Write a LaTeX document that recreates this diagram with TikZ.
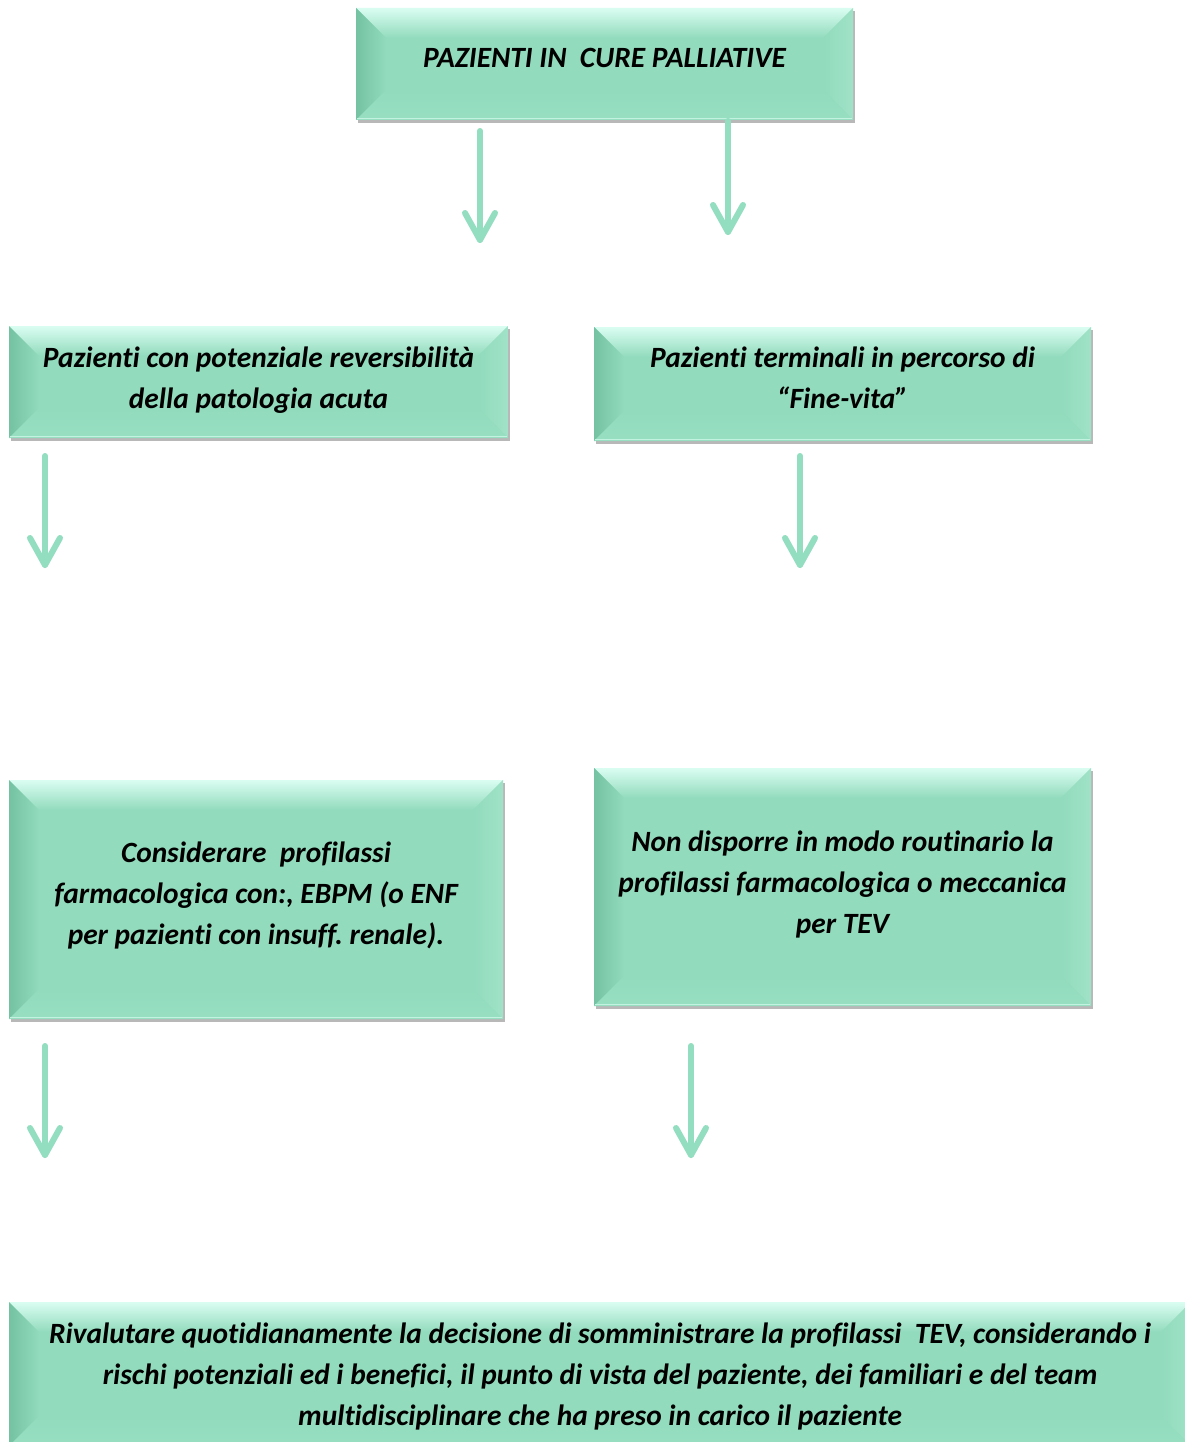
\documentclass[tikz,border=0pt]{standalone}
\usepackage{fontspec}
\setmainfont{Carlito}[Ligatures={NoCommon}]
\usetikzlibrary{calc,shadows}
\frenchspacing

\definecolor{boxfill}{RGB}{146,219,189}
\definecolor{bvtop}{RGB}{218,253,242}
\definecolor{bvleft}{RGB}{116,194,162}
\definecolor{bvright}{RGB}{160,226,199}
\definecolor{bvbottom}{RGB}{152,223,194}
\definecolor{bvedge}{RGB}{196,242,224}
\definecolor{arrowcol}{RGB}{147,221,192}

\tikzset{
  bevelbox/.style={
    rectangle, inner sep=0pt, fill=boxfill,
    drop shadow={shadow xshift=1.5pt,shadow yshift=-3pt,fill=black,opacity=0.28},
    path picture={
      \path (path picture bounding box.south west) coordinate (pbsw)
            (path picture bounding box.north east) coordinate (pbne);
      \path (pbsw|-pbne) coordinate (pbnw) (pbne|-pbsw) coordinate (pbse);
      \path ($(pbnw)+(30pt,-30pt)$) coordinate (inw)
            ($(pbne)+(-30pt,-30pt)$) coordinate (ine)
            ($(pbsw)+(30pt,30pt)$) coordinate (isw)
            ($(pbse)+(-30pt,30pt)$) coordinate (ise);
      % top bevel
      \shade[top color=bvtop,bottom color=boxfill] (pbnw) -- (pbne) -- (ine) -- (inw) -- cycle;
      % left bevel
      \shade[left color=bvleft,right color=boxfill] (pbnw) -- (inw) -- (isw) -- (pbsw) -- cycle;
      % right bevel
      \shade[left color=boxfill,right color=bvright] (pbne) -- (pbse) -- (ise) -- (ine) -- cycle;
      % bottom bevel
      \shade[top color=boxfill,bottom color=bvbottom] (pbsw) -- (isw) -- (ise) -- (pbse) -- cycle;
      \draw[bvedge,line width=1.5pt] ($(pbsw)+(1pt,1.5pt)$) -- ($(pbse)+(-1pt,1.5pt)$);
    }
  },
  boxtext/.style={
    inner sep=0pt, align=center,
    font=\fontsize{29.4}{41}\selectfont\bfseries\itshape
  },
  flowarrow/.style={draw=arrowcol, line width=6pt, line cap=round, line join=round},
}

% down arrow with open chevron head
\newcommand{\downarrowpath}[2]{%
  \draw[flowarrow] (#1) -- (#2);
  \draw[flowarrow] ($(#2)+(-15pt,27pt)$) -- (#2) -- ($(#2)+(15pt,27pt)$);
}

\begin{document}
\begin{tikzpicture}[x=1pt,y=-1pt]
  \clip (0,0) rectangle (1185,1442);
  \fill[white] (0,0) rectangle (1185,1442);

  % boxes
  \node[bevelbox, minimum width=497pt, minimum height=112pt] (top) at (604.5,64) {};
  \node[bevelbox, minimum width=499pt, minimum height=112pt] (rev) at (258.5,382) {};
  \node[bevelbox, minimum width=497pt, minimum height=114pt] (term) at (842.5,384) {};
  \node[bevelbox, minimum width=494pt, minimum height=239pt] (prof) at (256,899.5) {};
  \node[bevelbox, minimum width=497pt, minimum height=238pt] (nonp) at (842.5,887) {};
  \node[bevelbox, minimum width=1182pt, minimum height=144pt] (rival) at (600,1374) {};

  % box texts
  \node[boxtext] (top-t) at ([yshift=6pt]top.center) {PAZIENTI IN\ \ CURE PALLIATIVE};
  \node[boxtext] (rev-t) at ([yshift=2pt]rev.center)
    {Pazienti con potenziale reversibilità\\ della patologia acuta};
  \node[boxtext] (term-t) at ([yshift=6pt]term.center)
    {Pazienti terminali in percorso di\\ “Fine-vita”};
  \node[boxtext] (prof-t) at ([yshift=4pt]prof.center)
    {Considerare\ \ profilassi\\ farmacologica con:, EBPM (o ENF\\ per pazienti con insuff. renale).};
  \node[boxtext] (nonp-t) at ([yshift=3pt]nonp.center)
    {Non disporre in modo routinario la\\ profilassi farmacologica o meccanica\\ per TEV};
  \node[boxtext] (rival-t) at ([yshift=-2pt]rival.center)
    {Rivalutare quotidianamente la decisione di somministrare la profilassi\ \ TEV, considerando i\\
     rischi potenziali ed i benefici, il punto di vista del paziente, dei familiari e del team\\
     multidisciplinare che ha preso in carico il paziente};

  % arrow end points
  \coordinate (a1s) at (480,131);  \coordinate (a1e) at (480,240);
  \coordinate (a2s) at (728,121);  \coordinate (a2e) at (728,232);
  \coordinate (a3s) at (45,456);   \coordinate (a3e) at (45,565);
  \coordinate (a4s) at (800,456);  \coordinate (a4e) at (800,565);
  \coordinate (a5s) at (45,1046);  \coordinate (a5e) at (45,1155);
  \coordinate (a6s) at (691,1046); \coordinate (a6e) at (691,1155);

  \downarrowpath{a1s}{a1e}
  \downarrowpath{a2s}{a2e}
  \downarrowpath{a3s}{a3e}
  \downarrowpath{a4s}{a4e}
  \downarrowpath{a5s}{a5e}
  \downarrowpath{a6s}{a6e}
\end{tikzpicture}
\end{document}
